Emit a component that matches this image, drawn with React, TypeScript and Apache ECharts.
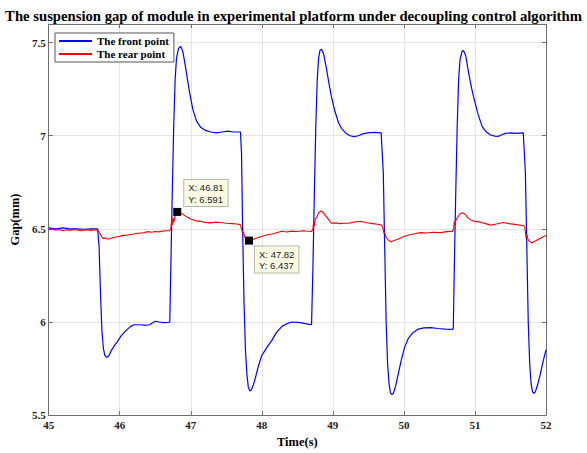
import React, { useEffect, useRef } from "react";
import * as echarts from "echarts";

const titleText = "The suspension gap of module in experimental platform under decoupling control algorithm";
const xName = "Time(s)";
const yName = "Gap(mm)";
const seriesNames = ["The front point", "The rear point"];

const frontPoint: [number, number][] = [
  [45.0, 6.505], [45.1, 6.5], [45.2, 6.505], [45.3, 6.5], [45.4, 6.5], [45.5, 6.498], [45.6, 6.5], [45.69, 6.5],
  [45.71, 6.4], [45.73, 6.15], [45.75, 5.95], [45.77, 5.86], [45.79, 5.82], [45.82, 5.81], [45.85, 5.82], [45.88, 5.845],
  [45.92, 5.87], [45.96, 5.89], [46.02, 5.925], [46.09, 5.955], [46.15, 5.975], [46.2, 5.985], [46.3, 5.985], [46.35, 5.982],
  [46.42, 5.985], [46.46, 5.995], [46.5, 6.004], [46.56, 6.0], [46.62, 5.997], [46.69, 5.998], [46.705, 6.0],
  [46.72, 6.3], [46.74, 6.7], [46.76, 7.05], [46.78, 7.3], [46.8, 7.42], [46.83, 7.47], [46.86, 7.48], [46.89, 7.45],
  [46.93, 7.36], [46.98, 7.24], [47.03, 7.14], [47.08, 7.08], [47.14, 7.045], [47.2, 7.03], [47.28, 7.02], [47.36, 7.015],
  [47.44, 7.02], [47.52, 7.025], [47.6, 7.02], [47.7, 7.02],
  [47.715, 6.9], [47.73, 6.5], [47.75, 6.1], [47.77, 5.85], [47.79, 5.72], [47.81, 5.65], [47.83, 5.63], [47.85, 5.635],
  [47.88, 5.66], [47.91, 5.7], [47.95, 5.76], [48.0, 5.82], [48.05, 5.85], [48.1, 5.88], [48.14, 5.9], [48.2, 5.94],
  [48.28, 5.975], [48.35, 5.99], [48.42, 6.0], [48.5, 5.998], [48.56, 5.995], [48.63, 5.99], [48.7, 5.985],
  [48.72, 6.3], [48.74, 6.7], [48.76, 7.05], [48.78, 7.3], [48.8, 7.42], [48.82, 7.46], [48.84, 7.465], [48.87, 7.44],
  [48.91, 7.36], [48.95, 7.27], [48.98, 7.21], [49.03, 7.13], [49.08, 7.07], [49.12, 7.04], [49.18, 7.015], [49.24, 7.0],
  [49.3, 6.995], [49.36, 7.0], [49.42, 7.01], [49.49, 7.015], [49.58, 7.018], [49.68, 7.015],
  [49.71, 6.8], [49.73, 6.4], [49.75, 6.0], [49.77, 5.78], [49.79, 5.67], [49.81, 5.62], [49.83, 5.61], [49.85, 5.615],
  [49.88, 5.65], [49.92, 5.72], [49.96, 5.79], [50.01, 5.865], [50.06, 5.91], [50.12, 5.94], [50.19, 5.96], [50.28, 5.968],
  [50.38, 5.97], [50.48, 5.965], [50.58, 5.962], [50.68, 5.96], [50.695, 5.962],
  [50.71, 6.3], [50.73, 6.7], [50.75, 7.05], [50.77, 7.3], [50.79, 7.41], [50.82, 7.455], [50.84, 7.457], [50.87, 7.43],
  [50.91, 7.34], [50.95, 7.26], [50.98, 7.21], [51.04, 7.12], [51.1, 7.05], [51.16, 7.02], [51.22, 7.004], [51.28, 6.998],
  [51.33, 6.997], [51.38, 7.005], [51.43, 7.013], [51.5, 7.015], [51.58, 7.013], [51.68, 7.015],
  [51.71, 6.8], [51.73, 6.4], [51.75, 6.0], [51.77, 5.78], [51.79, 5.67], [51.81, 5.625], [51.83, 5.617], [51.85, 5.625],
  [51.88, 5.66], [51.92, 5.72], [51.96, 5.79], [52.0, 5.85],
];

const rearPoint: [number, number][] = [
  [45.0, 6.495], [45.05, 6.5], [45.1, 6.493], [45.15, 6.497], [45.2, 6.49], [45.25, 6.495], [45.3, 6.492], [45.35, 6.497],
  [45.4, 6.494], [45.45, 6.49], [45.5, 6.493], [45.55, 6.496], [45.6, 6.492], [45.65, 6.495], [45.69, 6.493],
  [45.71, 6.48], [45.73, 6.47], [45.75, 6.455], [45.77, 6.447], [45.8, 6.452], [45.83, 6.445], [45.86, 6.447], [45.9, 6.452],
  [45.95, 6.456], [46.0, 6.46], [46.05, 6.465], [46.1, 6.466], [46.15, 6.47], [46.2, 6.472], [46.25, 6.476], [46.3, 6.478],
  [46.35, 6.48], [46.4, 6.485], [46.45, 6.482], [46.5, 6.486], [46.55, 6.484], [46.6, 6.488], [46.65, 6.49], [46.7, 6.49],
  [46.72, 6.5], [46.73, 6.545], [46.74, 6.52], [46.75, 6.56], [46.76, 6.535], [46.78, 6.57], [46.81, 6.591], [46.85, 6.585],
  [46.89, 6.578], [46.94, 6.565], [47.0, 6.553], [47.07, 6.543], [47.14, 6.54], [47.2, 6.535], [47.28, 6.532], [47.35, 6.536],
  [47.42, 6.534], [47.5, 6.53], [47.58, 6.528], [47.65, 6.526], [47.7, 6.522],
  [47.72, 6.49], [47.73, 6.475], [47.74, 6.485], [47.76, 6.455], [47.79, 6.45], [47.82, 6.437], [47.86, 6.44], [47.91, 6.448],
  [47.96, 6.455], [48.02, 6.462], [48.08, 6.468], [48.15, 6.472], [48.22, 6.48], [48.28, 6.487], [48.35, 6.483], [48.42, 6.488],
  [48.5, 6.486], [48.58, 6.49], [48.65, 6.487], [48.7, 6.486],
  [48.72, 6.5], [48.73, 6.54], [48.74, 6.515], [48.75, 6.55], [48.77, 6.56], [48.8, 6.585], [48.83, 6.596], [48.86, 6.59],
  [48.9, 6.57], [48.94, 6.55], [48.98, 6.53], [49.04, 6.532], [49.1, 6.528], [49.16, 6.53], [49.22, 6.53], [49.3, 6.537],
  [49.4, 6.54], [49.48, 6.533], [49.56, 6.528], [49.63, 6.525], [49.69, 6.52],
  [49.71, 6.495], [49.72, 6.475], [49.73, 6.48], [49.75, 6.455], [49.78, 6.44], [49.82, 6.43], [49.86, 6.437], [49.92, 6.445],
  [49.97, 6.453], [50.01, 6.46], [50.08, 6.468], [50.15, 6.474], [50.24, 6.48], [50.32, 6.478], [50.4, 6.482], [50.52, 6.48],
  [50.6, 6.485], [50.68, 6.486],
  [50.7, 6.5], [50.71, 6.54], [50.72, 6.52], [50.73, 6.545], [50.76, 6.565], [50.79, 6.58], [50.82, 6.587], [50.86, 6.58],
  [50.9, 6.56], [50.94, 6.548], [51.0, 6.54], [51.08, 6.536], [51.15, 6.528], [51.22, 6.52], [51.3, 6.526], [51.4, 6.534],
  [51.48, 6.528], [51.56, 6.524], [51.66, 6.518], [51.7, 6.515],
  [51.72, 6.45], [51.73, 6.47], [51.75, 6.44], [51.78, 6.43], [51.8, 6.424], [51.85, 6.435], [51.9, 6.445], [51.95, 6.455],
  [52.0, 6.465],
];

const dataTips: { coord: [number, number]; label: string }[] = [
  { coord: [46.81, 6.591], label: "X: 46.81\nY: 6.591" },
  { coord: [47.82, 6.437], label: "X: 47.82\nY: 6.437" },
];
const tipPositions: [number, number][] = [[11, -28], [10, 10]];

const X_MIN = 45;
const X_MAX = 52;
const Y_MIN = 5.5;
const Y_MAX = 7.6;

const serif = "Liberation Serif";
const axisColor = "#6e6e6e";

export default function App() {
  const ref = useRef<HTMLDivElement>(null);
  useEffect(() => {
    if (!ref.current) return;
    const chart = echarts.init(ref.current, undefined, { renderer: "svg" });
    const tickInside = { show: true, inside: true, length: 4, lineStyle: { color: axisColor } };
    chart.setOption({
      animation: false,
      backgroundColor: "#ffffff",
      title: {
        text: titleText,
        left: "center",
        top: 3,
        textStyle: { fontFamily: serif, fontWeight: "bold", fontSize: 14.7, color: "#000" },
      },
      legend: {
        left: 55,
        top: 33,
        orient: "vertical",
        backgroundColor: "#ffffff",
        borderColor: "#555",
        borderWidth: 1,
        borderRadius: 0,
        padding: [2, 5, 2, 4],
        itemGap: 1,
        itemWidth: 33,
        itemHeight: 2,
        icon: "rect",
        textStyle: { fontFamily: serif, fontWeight: "bold", fontSize: 11, color: "#000", lineHeight: 12 },
        data: seriesNames,
      },
      grid: { left: 45, right: 41, top: 24, bottom: 35, containLabel: false, show: false },
      xAxis: [
        {
          type: "value",
          min: X_MIN,
          max: X_MAX,
          interval: 1,
          name: xName,
          nameLocation: "middle",
          nameGap: 16,
          nameTextStyle: { fontFamily: serif, fontWeight: "bold", fontSize: 12.5, color: "#000" },
          axisLine: { show: true, lineStyle: { color: axisColor } },
          axisTick: tickInside,
          axisLabel: { fontFamily: serif, fontWeight: "bold", fontSize: 11, color: "#222", margin: 4 },
          splitLine: { show: true, lineStyle: { color: "#e4e4e4" } },
        },
        {
          type: "value",
          position: "top",
          min: X_MIN,
          max: X_MAX,
          interval: 1,
          axisLine: { show: true, lineStyle: { color: axisColor } },
          axisTick: tickInside,
          axisLabel: { show: false },
          splitLine: { show: false },
        },
      ],
      yAxis: [
        {
          type: "value",
          min: Y_MIN,
          max: Y_MAX,
          interval: 0.5,
          name: yName,
          nameLocation: "middle",
          nameGap: 17,
          nameTextStyle: { fontFamily: serif, fontWeight: "bold", fontSize: 12.5, color: "#000" },
          axisLine: { show: true, lineStyle: { color: axisColor } },
          axisTick: tickInside,
          axisLabel: { fontFamily: serif, fontWeight: "bold", fontSize: 11, color: "#222", margin: 3, showMaxLabel: false },
          splitLine: { show: true, lineStyle: { color: "#e4e4e4" } },
        },
        {
          type: "value",
          position: "right",
          min: Y_MIN,
          max: Y_MAX,
          interval: 0.5,
          axisLine: { show: true, lineStyle: { color: axisColor } },
          axisTick: tickInside,
          axisLabel: { show: false },
          splitLine: { show: false },
        },
      ],
      series: [
        {
          name: seriesNames[0],
          type: "line",
          data: frontPoint,
          showSymbol: false,
          symbol: "none",
          lineStyle: { color: "#0000ff", width: 1.2 },
          itemStyle: { color: "#0000ff" },
        },
        {
          name: seriesNames[1],
          type: "line",
          data: rearPoint,
          showSymbol: false,
          symbol: "none",
          lineStyle: { color: "#ff0000", width: 1.1 },
          itemStyle: { color: "#ff0000" },
          markPoint: {
            symbol: "rect",
            symbolSize: 8,
            itemStyle: { color: "#000" },
            z: 10,
            data: dataTips.map((d, i) => ({
              coord: d.coord,
              label: {
                show: true,
                formatter: d.label,
                position: tipPositions[i],
                align: "left",
                verticalAlign: "top",
                fontFamily: "Liberation Sans",
                fontSize: 9.5,
                lineHeight: 11.5,
                color: "#222",
                backgroundColor: "#fbfbe3",
                borderColor: "#b8b8a8",
                borderWidth: 1,
                padding: [2, 4, 1, 4],
              },
            })),
          },
        },
      ],
    });
    return () => chart.dispose();
  }, []);
  return <div ref={ref} style={{ width: 587, height: 453, position: "absolute", left: 0, top: 0 }} />;
}
